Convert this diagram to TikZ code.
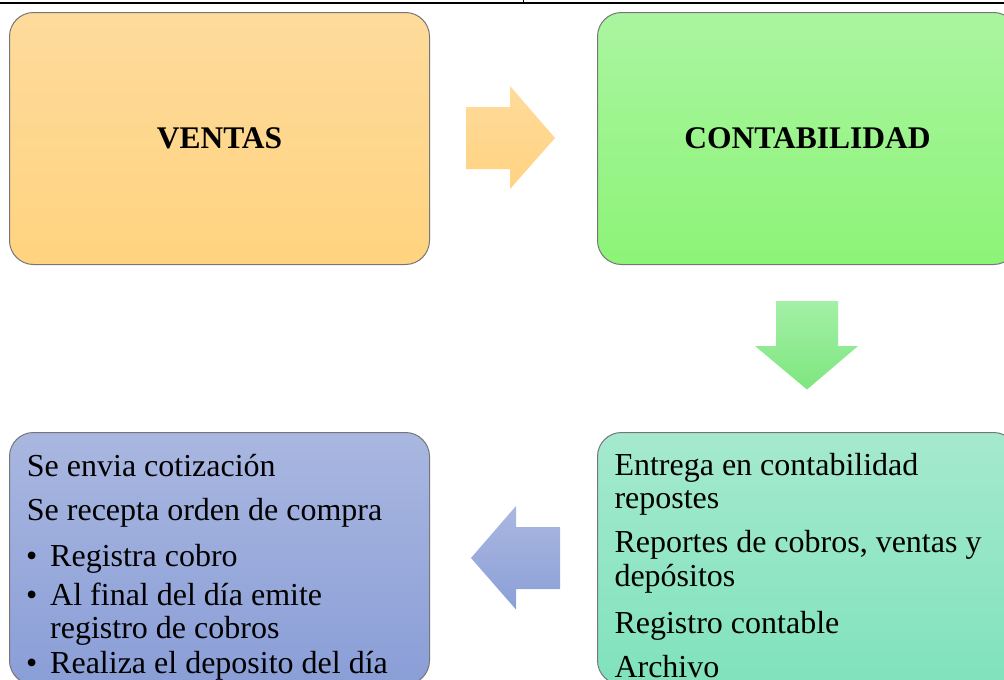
\documentclass[tikz,border=0pt]{standalone}
\usepackage{fontspec}
\setmainfont{Liberation Serif}
\definecolor{boxline}{HTML}{767676}
\definecolor{orTop}{HTML}{FEDB9C}
\definecolor{orBot}{HTML}{FFD37F}
\definecolor{grTop}{HTML}{AAF5A0}
\definecolor{grBot}{HTML}{8CF477}
\definecolor{tlTop}{HTML}{A5E9CF}
\definecolor{tlBot}{HTML}{80E2BD}
\definecolor{blTop}{HTML}{A9B7E0}
\definecolor{blBot}{HTML}{8A9ED7}
\definecolor{aoTop}{HTML}{FFDA9B}
\definecolor{aoBot}{HTML}{FFD381}
\definecolor{agTop}{HTML}{A3F0A6}
\definecolor{agBot}{HTML}{7EE67F}
\definecolor{abTop}{HTML}{AAB8E0}
\definecolor{abBot}{HTML}{8B9FD7}
\newcommand\myTitle{\fontsize{31.5}{36}\selectfont\bfseries}
\newcommand\myBody{\fontsize{32}{36}\selectfont}
\begin{document}
\begin{tikzpicture}[x=1pt,y=-1pt,
  box/.style={draw=boxline, line width=1pt, rounded corners=24pt,
    inner sep=0pt, anchor=north west, minimum width=420pt, minimum height=252pt},
  line/.style={anchor=base west, inner sep=0pt, font=\myBody}
]
\useasboundingbox (0,0) rectangle (1004,680);
\clip (0,0) rectangle (1004,680);
\fill[white] (0,0) rectangle (1004,680);

% top rule of the table
\draw[line width=2.3pt] (0,3.2) -- (1004,3.2);
\draw[line width=1.5pt] (523.5,0) -- (523.5,3);

% boxes
\node[box, top color=orTop, bottom color=orBot, font=\myTitle] (ventas) at (9,12) {VENTAS};
\node[box, top color=grTop, bottom color=grBot, font=\myTitle] (conta) at (597,12) {CONTABILIDAD};
\node[box, top color=tlTop, bottom color=tlBot] (reportes) at (597,432) {};
\node[box, top color=blTop, bottom color=blBot] (proceso) at (9,432) {};

% block arrows
\shade[top color=aoTop, bottom color=aoBot]
  (466,107) -- (510,107) -- (510,86) -- (555,138) -- (510,189) -- (510,169) -- (466,169) -- cycle;
\shade[top color=agTop, bottom color=agBot]
  (776,301) -- (838,301) -- (838,346) -- (858,346) -- (807,389.5) -- (755,346) -- (776,346) -- cycle;
\shade[top color=abTop, bottom color=abBot]
  (560,527) -- (516,527) -- (516,506) -- (471,558) -- (516,609.5) -- (516,589) -- (560,589) -- cycle;

% texts of the lower right box
\node[line] (r1) at (614.3,475) {Entrega en contabilidad};
\node[line] (r2) at (614.3,508.5) {repostes};
\node[line] (r3) at (614.3,552) {Reportes de cobros, ventas y};
\node[line] (r4) at (614.3,586) {depósitos};
\node[line] (r5) at (614.3,633) {Registro contable};
\node[line] (r6) at (614.3,677) {Archivo};

% texts of the lower left box
\node[line] (l1) at (26.7,476.5) {Se envia cotización};
\node[line] (l2) at (26.7,520.7) {Se recepta orden de compra};
\node[line] (b3) at (26,566.7) {•};
\node[line] (l3) at (50,566.7) {Registra cobro};
\node[line] (b4) at (26,605) {•};
\node[line] (l4) at (50,605) {Al final del día emite};
\node[line] (l5) at (50,638.5) {registro de cobros};
\node[line] (b6) at (26,673) {•};
\node[line] (l6) at (50,673) {Realiza el deposito del día};
\end{tikzpicture}
\end{document}
